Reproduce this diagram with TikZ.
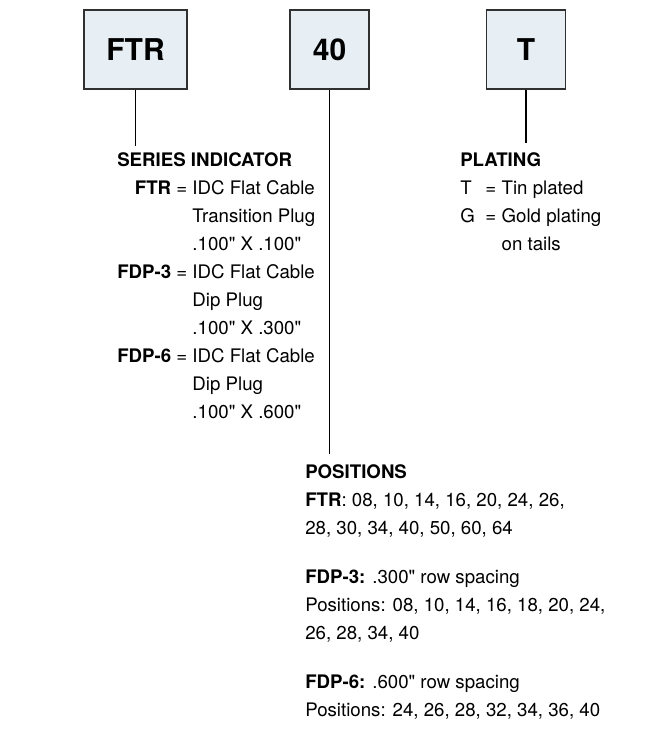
\documentclass[tikz,border=0pt]{standalone}
\usepackage{fontspec}
\setmainfont{TeX Gyre Heros}[Ligatures=TeXOff]
\usepackage{xcolor}
\usetikzlibrary{positioning}
\definecolor{boxfill}{HTML}{E7EEF4}
\definecolor{boxline}{HTML}{303030}
\tikzset{
  codebox/.style={rectangle, draw=boxline, line width=1.1pt, fill=boxfill, inner sep=0pt,
                  minimum width=59.25pt, minimum height=59.25pt, font=\fontsize{22.5}{26}\selectfont\bfseries},
  lead/.style={draw=black, line width=1.4pt},
  desc/.style={anchor=base west, inner sep=0pt, font=\fontsize{14}{21}\selectfont},
}

\begin{document}
\begin{tikzpicture}[x=0.75pt, y=-0.75pt]
\useasboundingbox (0,0) rectangle (667,732);
\node[codebox, minimum width=77.25pt] (ftrbox) at (135.5,49.5) {FTR};
\node[codebox] (posbox) at (329.5,49.5) {40};
\node[codebox] (platbox) at (526,49.5) {T};
\node[desc] (series) at (117,166) {\begin{tabular}[t]{@{}r@{\ }c@{\ }l@{}}
\multicolumn{3}{@{}l@{}}{\textbf{SERIES INDICATOR}}\\
\textbf{FTR} & = & IDC Flat Cable\\
 & & Transition Plug\\
 & & .100" X .100"\\
\textbf{FDP-3} & = & IDC Flat Cable\\
 & & Dip Plug\\
 & & .100" X .300"\\
\textbf{FDP-6} & = & IDC Flat Cable\\
 & & Dip Plug\\
 & & .100" X .600"
\end{tabular}};
\node[desc] (plating) at (460,166) {\begin{tabular}[t]{@{}l@{\hspace{8pt}}c@{\hspace{4pt}}l@{}}
\multicolumn{3}{@{}l@{}}{\textbf{PLATING}}\\
T & = & Tin plated\\
G & = & Gold plating\\
 & & on tails
\end{tabular}};
\node[desc] (positions) at (305,478) {\begin{tabular}[t]{@{}l@{}}
\textbf{POSITIONS}\\
\textbf{FTR}: 08, 10, 14, 16, 20, 24, 26,\\
28, 30, 34, 40, 50, 60, 64\\[16pt]
\textbf{FDP-3:} .300" row spacing\\
Positions: 08, 10, 14, 16, 18, 20, 24,\\
26, 28, 34, 40\\[16pt]
\textbf{FDP-6:} .600" row spacing\\
Positions: 24, 26, 28, 32, 34, 36, 40
\end{tabular}};
\draw[lead] (ftrbox.south) -- (ftrbox.south |- series.north);
\draw[lead] (posbox.south) -- ([yshift=3pt]posbox.south |- positions.north);
\draw[lead] (platbox.south) -- ([yshift=2pt]platbox.south |- plating.north);
\end{tikzpicture}
\end{document}
